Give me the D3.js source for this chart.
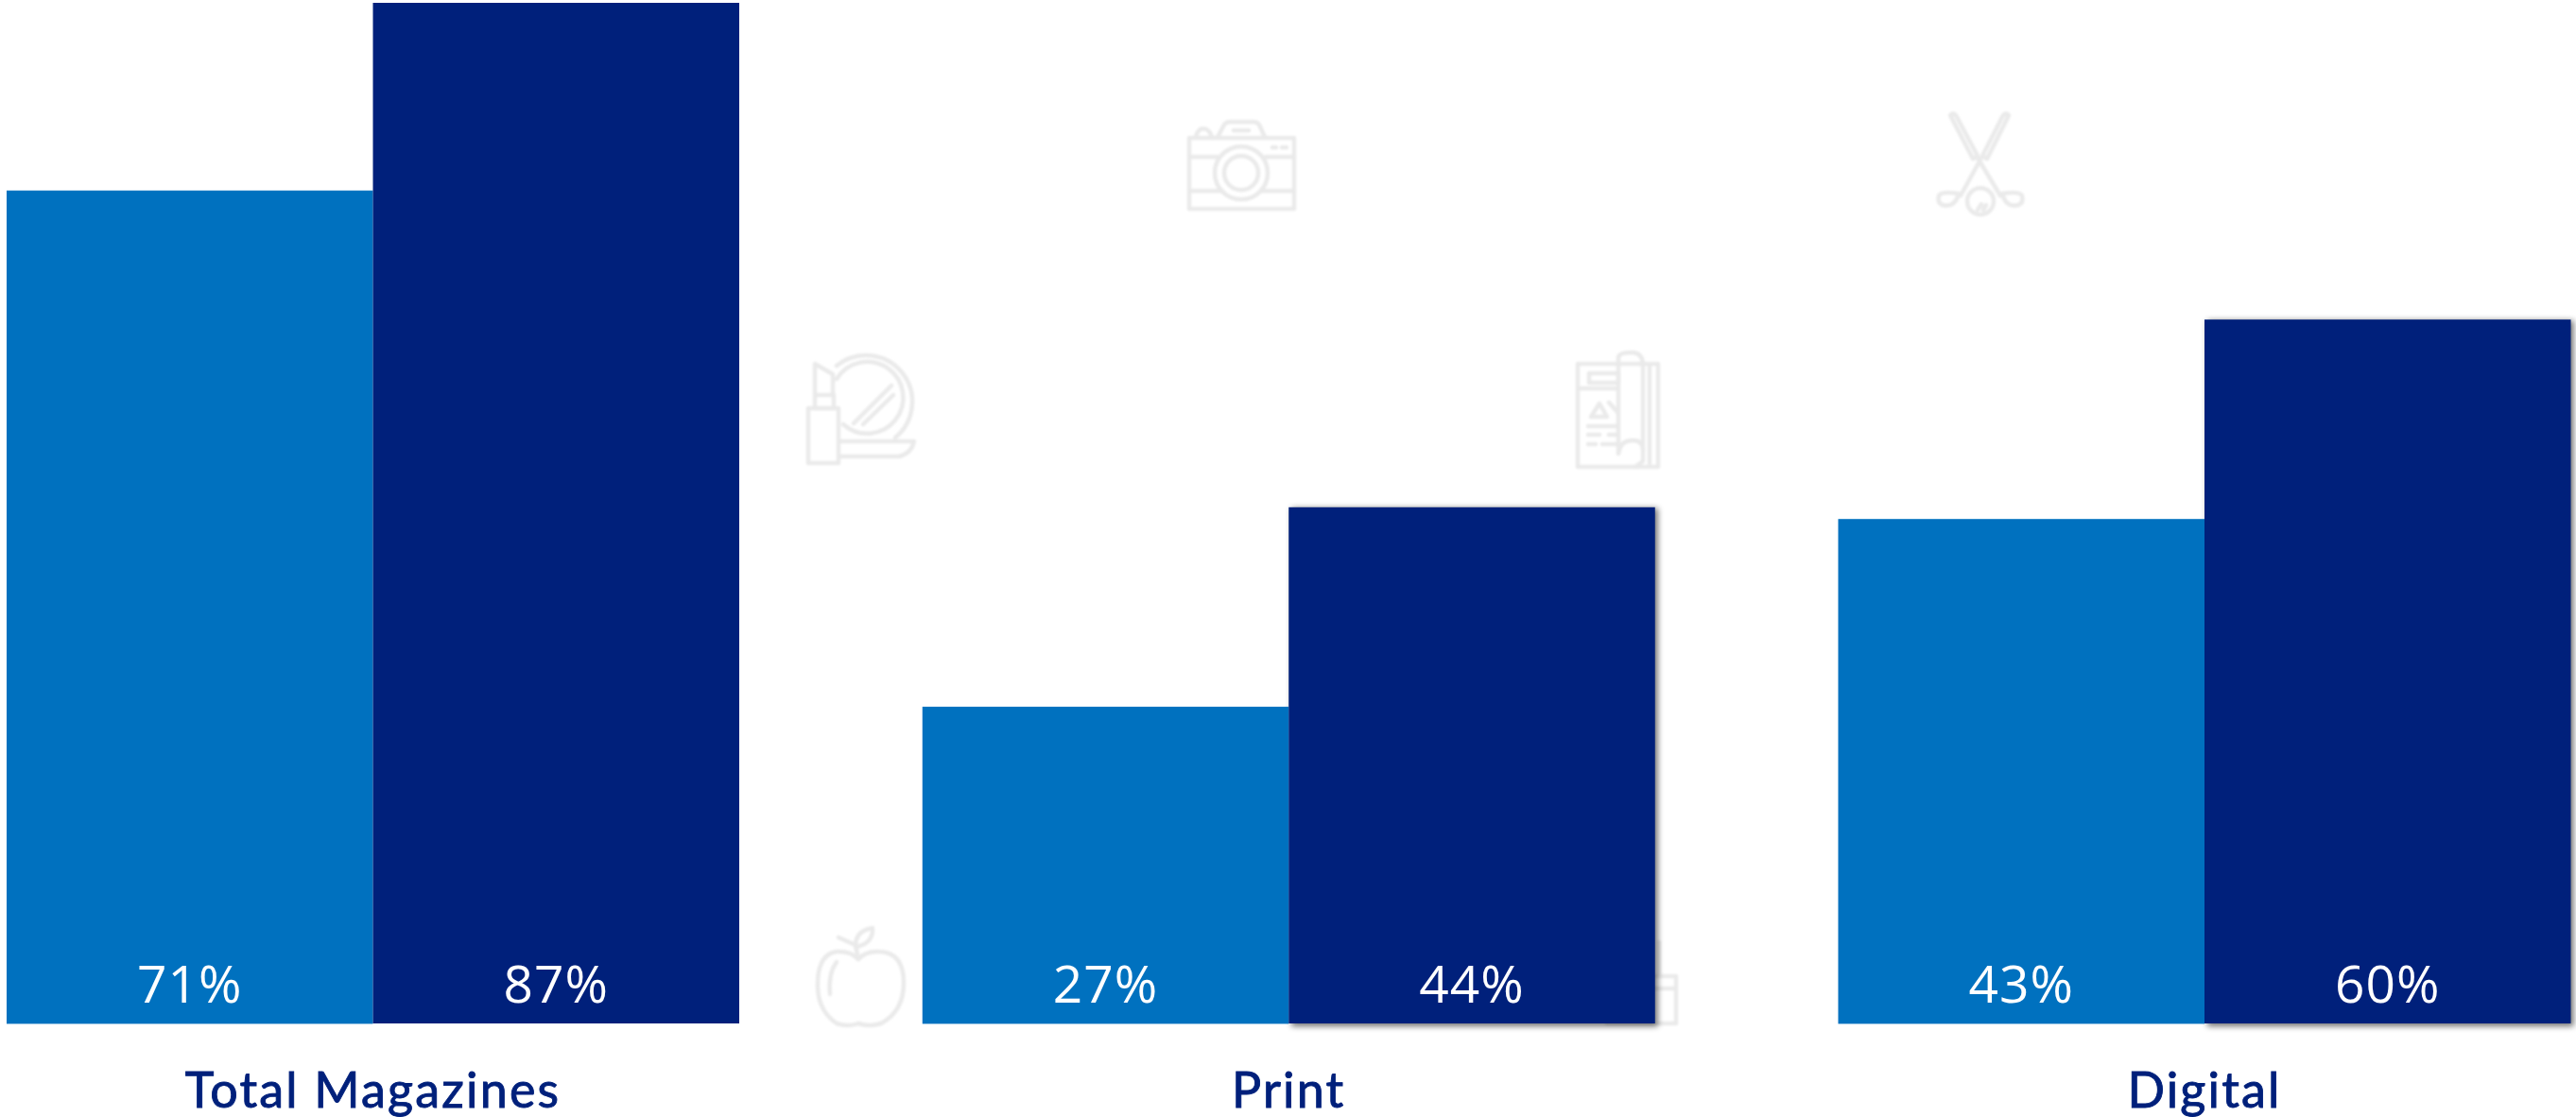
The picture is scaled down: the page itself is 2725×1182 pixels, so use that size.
<!DOCTYPE html>
<html>
<head>
<meta charset="utf-8">
<script src="https://cdn.jsdelivr.net/npm/d3@7"></script>
<style>
  html, body { margin: 0; padding: 0; background: #fff; }
  svg { display: block; }
  .value { font-family: "Open Sans", sans-serif; font-size: 55px; fill: #fff; text-anchor: middle; letter-spacing: 1px; }
  .category { font-family: Lato, sans-serif; font-size: 52px; fill: #00207b; stroke: #00207b; stroke-width: 0.9px; text-anchor: middle; letter-spacing: 2.2px; }
  .icon path, .icon circle { fill: none; stroke: #eaeaea; stroke-width: 4.5; stroke-linecap: round; stroke-linejoin: round; }
</style>
</head>
<body>
<svg id="chart" width="2725" height="1182"></svg>
<script>
const categories = ["Total Magazines", "Print", "Digital"];
const seriesKeys = ["first", "second"];
const firstValues = [71, 27, 43];
const secondValues = [87, 44, 60];
const seriesColors = ["#0071bf", "#00207b"];

const width = 2725, height = 1182;
const baseline = 1083, plotTop = 3;
const svg = d3.select("#chart").attr("viewBox", [0, 0, width, height]);

const x0 = d3.scaleBand().domain(categories).range([7, 2719.5]).paddingInner(0.2);
const x1 = d3.scaleBand().domain(seriesKeys).range([0, x0.bandwidth()]);
const y = d3.scaleLinear().domain([0, 87]).range([baseline, plotTop]);
const color = d3.scaleOrdinal().domain(seriesKeys).range(seriesColors);

const defs = svg.append("defs");
defs.append("filter").attr("id", "soft").attr("x", "-5%").attr("y", "-5%").attr("width", "110%").attr("height", "110%")
  .append("feGaussianBlur").attr("stdDeviation", 3);
defs.append("filter").attr("id", "iconSoft").attr("filterUnits", "userSpaceOnUse")
  .attr("x", 0).attr("y", 0).attr("width", width).attr("height", height)
  .append("feGaussianBlur").attr("stdDeviation", 1.1);

// Faint line-art pictograms sitting behind the bars
const icons = [
  { // camera
    d: ["M1258 146H1369V221H1258Z", "M1258 166H1288M1339 166H1369", "M1258 202H1293M1334 202H1369",
        "M1265 145Q1267 136 1273 136Q1279 136 1282 145", "M1288 145L1295 132Q1297 129 1301 129H1326Q1330 129 1332 132L1338 145",
        "M1305 138H1321", "M1346 156H1350M1356 156H1361"],
    c: [[1313, 183, 28], [1313, 183, 18]]
  },
  { // crossed golf clubs
    d: ["M2063 122Q2066 119 2069 122L2092 165L2087 168Z", "M2125 122Q2122 119 2119 122L2097 165L2102 168Z",
        "M2092 167L2116 207", "M2096 167L2074 207",
        "M2118 205Q2122 220 2135 217Q2141 215 2139 207Q2136 202 2118 205",
        "M2072 205Q2068 220 2055 217Q2049 215 2051 207Q2054 202 2072 205",
        "M2092 222L2096 216M2098 222L2101 217"],
    c: [[2095, 213, 14]]
  },
  { // lipstick and compact mirror
    d: ["M855 432H887V490H855Z", "M862 418H882V432H862Z", "M862 418V385L881 396V418",
        "M885 387A47 47 0 0 1 947 463", "M885 401A38 38 0 1 1 892 449",
        "M903 448L943 408M913 449L945 418", "M888 467H967Q964 480 951 483H888"],
    c: []
  },
  { // rolled magazine
    d: ["M1669 385H1754V494H1669Z", "M1681 395H1712V405H1681Z", "M1669 411H1711",
        "M1712 378Q1713 373 1726 373Q1738 373 1738 387V488L1730 494", "M1712 378V480",
        "M1712 480Q1714 466 1727 466Q1738 466 1738 476", "M1745 387V490",
        "M1683 441L1692 427L1700 441H1683M1702 426L1711 436", "M1680 451H1710M1680 460H1692M1702 460H1710M1680 470H1688M1695 470H1710"],
    c: []
  },
  { // apple
    d: ["M908 1015Q900 1006 885 1007Q864 1010 865 1045Q866 1070 885 1083Q897 1087 908 1083Q920 1087 932 1083Q956 1070 956 1040Q956 1008 930 1007Q916 1006 908 1015",
        "M908 1015L905 1000L887 992", "M905 1001Q905 985 923 982Q924 998 906 1002",
        "M885 1018Q876 1030 878 1052"],
    c: []
  },
  { // second lipstick, mostly hidden by the Print bars
    d: ["M1700 1033H1773V1083H1700Z", "M1700 1046H1773", "M1755 1033V997"],
    c: []
  }
];
const iconLayer = svg.append("g").attr("class", "icon").attr("filter", "url(#iconSoft)");
icons.forEach(icon => {
  const g = iconLayer.append("g");
  g.selectAll("path").data(icon.d).join("path").attr("d", d => d);
  g.selectAll("circle").data(icon.c).join("circle")
    .attr("cx", d => d[0]).attr("cy", d => d[1]).attr("r", d => d[2]);
});

// Grouped bars
const rows = categories.map((category, i) => ({ category, first: firstValues[i], second: secondValues[i] }));
const groups = svg.append("g").selectAll("g").data(rows).join("g")
  .attr("transform", d => `translate(${x0(d.category)},0)`);

// Soft shadow under the darker bars of the two shorter groups
groups.filter(d => d.category !== categories[0]).append("rect")
  .attr("x", x1("second") + 3).attr("y", d => y(d.second) + 1)
  .attr("width", x1.bandwidth()).attr("height", d => baseline + 2 - y(d.second))
  .attr("fill", "#000").attr("opacity", 0.55)
  .attr("filter", "url(#soft)");

groups.selectAll("rect.bar")
  .data(d => seriesKeys.map(key => ({ key, value: d[key] })))
  .join("rect").attr("class", "bar")
  .attr("x", d => x1(d.key)).attr("y", d => y(d.value))
  .attr("width", x1.bandwidth()).attr("height", d => baseline - y(d.value))
  .attr("fill", d => color(d.key));

// Pale hairline along the foot of the lighter bars
groups.append("rect")
  .attr("x", x1("first")).attr("y", baseline)
  .attr("width", x1.bandwidth()).attr("height", 1)
  .attr("fill", seriesColors[0]).attr("opacity", 0.4);

groups.selectAll("text.value")
  .data(d => seriesKeys.map(key => ({ key, value: d[key] })))
  .join("text").attr("class", "value")
  .attr("x", d => x1(d.key) + x1.bandwidth() / 2).attr("y", 1061)
  .text(d => `${d.value}%`);

// Category labels under each pair of bars
svg.append("g").selectAll("text").data(categories).join("text")
  .attr("class", "category")
  .attr("x", d => x0(d) + x0.bandwidth() / 2).attr("y", 1172)
  .text(d => d);
</script>
</body>
</html>
